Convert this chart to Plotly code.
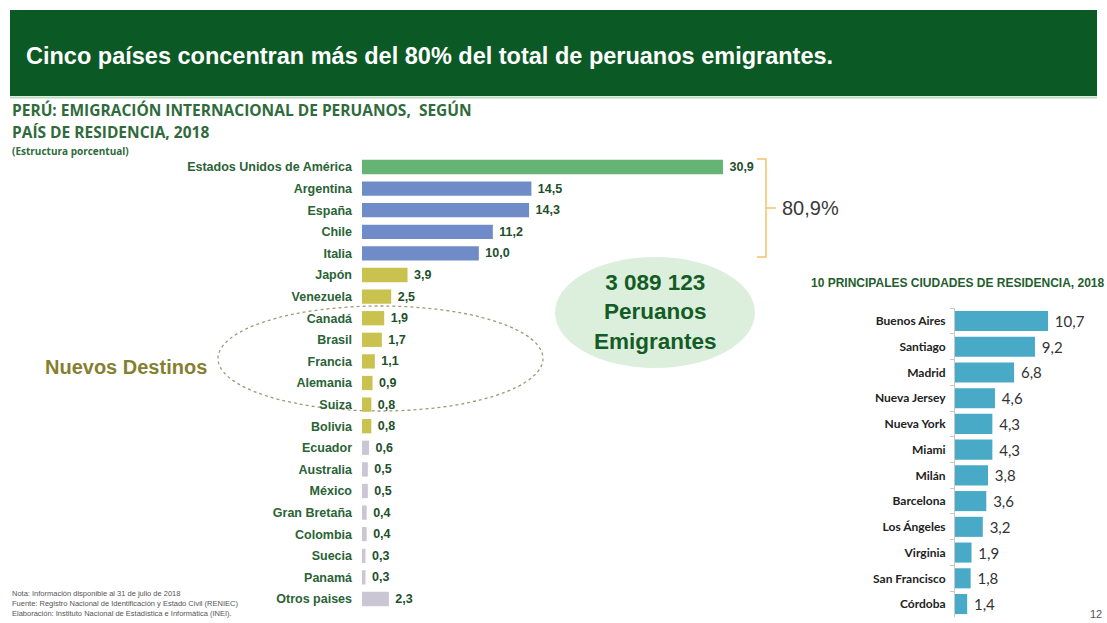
import plotly.graph_objects as go

W, H = 1107, 623

# ---------------- data ----------------
countries = ["Estados Unidos de América", "Argentina", "España", "Chile", "Italia",
             "Japón", "Venezuela", "Canadá", "Brasil", "Francia", "Alemania", "Suiza",
             "Bolivia", "Ecuador", "Australia", "México", "Gran Bretaña", "Colombia",
             "Suecia", "Panamá", "Otros paises"]
country_pct = [30.9, 14.5, 14.3, 11.2, 10.0, 3.9, 2.5, 1.9, 1.7, 1.1, 0.9, 0.8,
               0.8, 0.6, 0.5, 0.5, 0.4, 0.4, 0.3, 0.3, 2.3]
country_group = ["top1"] + ["top5"] * 4 + ["nuevos"] * 8 + ["otros"] * 8

cities = ["Buenos Aires", "Santiago", "Madrid", "Nueva Jersey", "Nueva York", "Miami",
          "Milán", "Barcelona", "Los Ángeles", "Virginia", "San Francisco", "Córdoba"]
city_pct = [10.7, 9.2, 6.8, 4.6, 4.3, 4.3, 3.8, 3.6, 3.2, 1.9, 1.8, 1.4]

total_emigrants = "3 089 123"
top5_share = "80,9%"

group_colors = {"top1": "#66b473", "top5": "#6f8cc9", "nuevos": "#c9c24e", "otros": "#cbc6d3"}


def fmt(v):
    return f"{v:.1f}".replace(".", ",")


def X(px):
    return px / W


def Y(py):
    return 1 - py / H


fig = go.Figure()

# ---- left chart ----
fig.add_trace(go.Bar(
    y=countries, x=country_pct, orientation="h",
    marker=dict(color=[group_colors[g] for g in country_group], line=dict(width=0)),
    width=0.66,
    text=[" " + fmt(v) for v in country_pct], textposition="outside",
    textfont=dict(family="Liberation Sans", size=12.5, color="#1d4f2c", weight="bold"),
    cliponaxis=False, xaxis="x", yaxis="y", hoverinfo="skip",
))

# ---- right chart ----
fig.add_trace(go.Bar(
    y=cities, x=city_pct, orientation="h",
    marker=dict(color="#48aac6", line=dict(width=0)),
    width=0.78,
    text=[" " + fmt(v) for v in city_pct], textposition="outside",
    textfont=dict(family="Lato", size=15, color="#333333"),
    cliponaxis=False, xaxis="x2", yaxis="y2", hoverinfo="skip",
))

left_x0, left_x1 = 362, 740
left_scale = (723 - 362) / 30.9
right_x0, right_x1 = 955, 1080
right_scale = (1048 - 955) / 10.7

fig.update_layout(
    width=W, height=H, margin=dict(l=0, r=0, t=0, b=0),
    paper_bgcolor="white", plot_bgcolor="rgba(0,0,0,0)",
    showlegend=False, bargap=0.3,
    xaxis=dict(domain=[X(left_x0), X(left_x1)],
               range=[0, (left_x1 - left_x0) / left_scale],
               visible=False, fixedrange=True),
    yaxis=dict(domain=[Y(609.8), Y(156.2)], autorange="reversed",
               showline=False, showgrid=False, ticks="",
               ticklabelstandoff=9,
               tickfont=dict(family="Liberation Sans", size=12.5, color="#2a6336", weight="bold"),
               anchor="x", fixedrange=True),
    xaxis2=dict(domain=[X(right_x0), X(right_x1)],
                range=[0, (right_x1 - right_x0) / right_scale],
                visible=False, fixedrange=True, anchor="y2"),
    yaxis2=dict(domain=[Y(616.9), Y(308.1)], autorange="reversed",
                showline=True, linecolor="#c8c8c8", linewidth=1,
                showgrid=False, ticks="outside", tickson="boundaries",
                ticklen=4, tickcolor="#c8c8c8",
                ticklabelstandoff=6,
                tickfont=dict(family="Lato", size=12, color="#222222", weight="bold"),
                anchor="x2", fixedrange=True),
)

shapes = []
# title bar
shapes.append(dict(type="rect", xref="paper", yref="paper",
                   x0=X(10), x1=X(1097), y0=Y(96), y1=Y(10),
                   fillcolor="#0b5a25", line=dict(width=0), layer="below"))
shapes.append(dict(type="line", xref="paper", yref="paper",
                   x0=X(10), x1=X(1097), y0=Y(97.5), y1=Y(97.5),
                   line=dict(color="#b9dcc0", width=2), layer="below"))
# light green ellipse with total
shapes.append(dict(type="circle", xref="paper", yref="paper",
                   x0=X(555), x1=X(755), y0=Y(368), y1=Y(257),
                   fillcolor="#dcefdc", line=dict(width=0), layer="below"))
# dashed ellipse for "Nuevos Destinos"
shapes.append(dict(type="circle", xref="paper", yref="paper",
                   x0=X(218), x1=X(543), y0=Y(411), y1=Y(306),
                   fillcolor="rgba(0,0,0,0)",
                   line=dict(color="#9f9a78", width=1.3, dash="dot"), layer="below"))
# bracket for the 80.9%
bx = 766
path = (f"M {X(757)},{Y(159)} L {X(bx)},{Y(159)} L {X(bx)},{Y(257)} L {X(757)},{Y(257)} "
        f"M {X(bx)},{Y(208)} L {X(776)},{Y(208)}")
shapes.append(dict(type="path", xref="paper", yref="paper", path=path,
                   line=dict(color="#f2c46a", width=1.5)))
fig.update_layout(shapes=shapes)

ann = []


def add_text(text, px, py, size, color, family="Liberation Sans", weight="normal",
             xanchor="left", align="left"):
    ann.append(dict(text=text, x=X(px), y=Y(py), xref="paper", yref="paper",
                    xanchor=xanchor, yanchor="middle", showarrow=False, align=align,
                    font=dict(family=family, size=size, color=color, weight=weight)))


add_text("Cinco países concentran más del 80% del total de peruanos emigrantes.", 24, 56, 23.5,
         "white", family="Liberation Sans", weight="bold")
add_text("PERÚ: EMIGRACIÓN INTERNACIONAL DE PERUANOS,  SEGÚN", 10, 110, 15.5, "#2f6b3b",
         family="Open Sans", weight="bold")
add_text("PAÍS DE RESIDENCIA, 2018", 10, 132, 15.5, "#2f6b3b", family="Open Sans", weight="bold")
add_text("(Estructura porcentual)", 10, 151, 10, "#2f6b3b", family="Open Sans", weight="bold")

add_text("Nuevos Destinos", 43, 367, 20, "#857f30", weight="bold")
add_text(top5_share, 780, 208, 20, "#3a3a3a")
add_text(f"{total_emigrants}<br>Peruanos<br>Emigrantes", 655, 312, 22.5, "#135c25",
         weight="bold", xanchor="center", align="center")
add_text("10 PRINCIPALES CIUDADES DE RESIDENCIA, 2018", 809, 283, 12, "#1f5e2e",
         weight="bold")

add_text("Nota: Información disponible al 31 de julio de 2018<br>"
         "Fuente: Registro Nacional de Identificación y Estado Civil (RENIEC)<br>"
         "Elaboración: Instituto Nacional de Estadística e Informática (INEI).",
         10, 603, 7.5, "#555555")
add_text("12", 1104, 614, 11, "#555555", xanchor="right")

fig.update_layout(annotations=ann)

fig.write_html("out.html", config={"displayModeBar": False},
               post_script="document.body.style.margin='0';")
